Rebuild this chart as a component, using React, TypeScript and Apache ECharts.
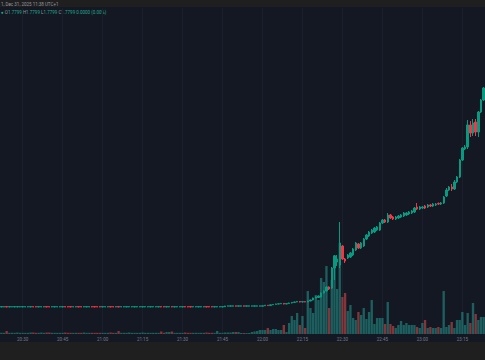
import React, { useEffect, useRef } from "react";
import * as echarts from "echarts";

// ---- data ----
const startMinute = 20 * 60 + 22; // first candle 20:22
const candleCount = 182;
const categories: string[] = Array.from({ length: candleCount }, (_, i) => {
  const m = startMinute + i;
  return `${String(Math.floor(m / 60)).padStart(2, "0")}:${String(m % 60).padStart(2, "0")}`;
});
const tickLabels = ["20:30", "20:45", "21:00", "21:15", "21:30", "21:45", "22:00", "22:15", "22:30", "22:45", "23:00", "23:15"];

const titleText = "1, Dec 31, 2025 11:38 UTC+1";
const ohlcLabels = ["O", "H", "L", "C"];
const ohlcValues = ["1.7799", "1.7799", "1.7799", "1.7799"];
const changeText = "0.0000 (0.00%)";

// [open, close, low, high]
const candles: number[][] = [
  [27, 27.4, 26.8, 27.6], [27, 27.4, 26.8, 27.6], [27.4, 27, 26.8, 27.6], [27, 27.4, 26.8, 27.6], [27, 27.4, 26.8, 27.6],
  [27, 27.4, 26.8, 27.6], [27, 27.4, 26.8, 27.6], [27, 27.4, 26.8, 27.6], [27, 27.4, 26.8, 27.6], [27, 27.4, 26.8, 27.6],
  [27, 27.4, 26.8, 27.6], [27, 27.4, 26.8, 27.6], [27.4, 27, 26.8, 27.6], [27.4, 27, 26.8, 27.6], [27, 27.4, 26.8, 27.6],
  [27, 27.4, 26.8, 27.6], [27, 27.4, 26.8, 27.6], [27.4, 27, 26.8, 27.6], [27.4, 27, 26.8, 27.6], [27, 27.4, 26.8, 27.6],
  [27, 27.4, 26.8, 27.6], [27, 27.4, 26.8, 27.6], [27, 27.4, 26.8, 27.6], [27, 27.4, 26.8, 27.6], [27.4, 27, 26.8, 27.6],
  [27.4, 27, 26.8, 27.6], [27.4, 27, 26.8, 27.6], [27, 27.4, 26.8, 27.6], [27, 27.4, 26.8, 27.6], [27.4, 27, 26.8, 27.6],
  [27.4, 27, 26.8, 27.6], [27, 27.4, 26.8, 27.6], [27, 27.4, 26.8, 27.6], [27, 27.4, 26.8, 27.6], [27.4, 27, 26.8, 27.6],
  [27.4, 27, 26.8, 27.6], [27.4, 27, 26.8, 27.6], [27.4, 27, 26.8, 27.6], [27, 27.4, 26.8, 27.6], [27, 27.4, 26.8, 27.6],
  [27, 27.4, 26.8, 27.6], [27.4, 27, 26.8, 27.6], [27.4, 27, 26.8, 27.6], [27, 27.4, 26.8, 27.6], [27.4, 27, 26.8, 27.6],
  [27, 27.4, 26.8, 27.6], [27, 27.4, 26.8, 27.6], [27, 27.4, 26.8, 27.6], [27, 27.4, 26.8, 27.6], [27, 27.4, 26.8, 27.6],
  [27, 27.4, 26.8, 27.6], [27, 27.4, 26.8, 27.6], [27, 27.4, 26.8, 27.6], [27, 27.4, 26.8, 27.6], [27, 27.4, 26.8, 27.6],
  [27, 27.4, 26.8, 27.6], [27, 27.4, 26.8, 27.6], [27, 27.4, 26.8, 27.6], [27, 27.4, 26.8, 27.6], [27, 27.4, 26.8, 27.6],
  [27.4, 27, 26.8, 27.6], [27.4, 27, 26.8, 27.6], [27, 27.4, 26.8, 27.6], [27, 27.4, 26.8, 27.6], [27.4, 27, 26.8, 27.6],
  [27, 27.4, 26.8, 27.6], [27, 27.4, 26.8, 27.6], [27, 27.4, 26.8, 27.6], [27, 27.4, 26.8, 27.6], [27.4, 27, 26.8, 27.6],
  [27.4, 27, 26.8, 27.6], [27.4, 27, 26.8, 27.6], [27, 27.4, 26.8, 27.6], [27, 27.4, 26.8, 27.6], [27, 27.4, 26.8, 27.6],
  [27, 27.4, 26.8, 27.6], [27, 27.4, 26.8, 27.6], [27.4, 27, 26.8, 27.6], [27.4, 27, 26.8, 27.6], [27.4, 27, 26.8, 27.6],
  [27, 27.4, 26.8, 27.6], [27, 27.4, 26.8, 27.6], [27, 27.4, 26.8, 27.6], [27, 27.4, 26.8, 27.6],
  // 84..
  [27.2, 28, 27, 28.2], [27.8, 28.2, 27.6, 28.4], [27.8, 28.2, 27.6, 28.4], [27.8, 28.2, 27.6, 28.4], [28.2, 27.8, 27.6, 28.4],
  [27.8, 28.2, 27.6, 28.4], [27.8, 28.2, 27.6, 28.4], [28.2, 27.8, 27.6, 28.4], [27.8, 28.2, 27.6, 28.4], [27.8, 28.2, 27.6, 28.4],
  [27.8, 28.2, 27.6, 28.4], [27.8, 28.2, 27.6, 28.4], [27.8, 28.2, 27.6, 28.4], [27.8, 28.2, 27.6, 28.4], [27.8, 28.2, 27.6, 28.4],
  // 99..
  [28.2, 28.8, 28, 29], [28.8, 28.4, 28.2, 29], [28.4, 29.2, 28.2, 29.4], [29.2, 29.6, 29, 30], [29.6, 30, 29.4, 30.4],
  [30, 30.2, 29.8, 30.6], [30.2, 30.6, 30, 31], [30.6, 30, 29.6, 31], [30, 30.4, 29.8, 30.8], [30.4, 31, 30.2, 31.4],
  [31, 31.6, 30.6, 32], [31.6, 32, 31.4, 32.4], [32, 32.6, 31.8, 33], [32.6, 32, 31.6, 32.8],
  // 113..
  [32, 32.4, 31.6, 32.8], [32.4, 32, 31.8, 32.6], [32, 33, 31.8, 33.4], [33, 34, 32.8, 34.4], [34, 36, 33.6, 36.4],
  [36, 37, 35.6, 37.6], [36.5, 38, 36, 38.6], [37, 41, 36.6, 41.6], [41, 43, 40.6, 43.6], [43, 47, 42.6, 47.6],
  [47, 45, 44, 47.6], [46, 66, 45, 67], [66, 78, 54, 79], [72, 75, 68, 79], [69, 91, 66, 112],
  [88, 75, 74, 89], [75, 73, 71, 76], [76, 79, 75, 80], [77, 81, 76, 82], [79, 85, 78, 86],
  [84, 91, 83, 92], [90, 86, 85, 91], [86, 91, 85, 92], [88, 95, 87, 96], [95, 99, 94, 100],
  [98, 102, 97, 103], [101, 104, 100, 105], [102, 106, 101, 107], [104, 107, 103, 108], [104, 111, 103, 112],
  [111, 114, 110, 115], [114, 112, 111, 115], [112, 119, 111, 121], [119, 116, 115, 120], [117, 115, 114, 118],
  [115, 117, 114, 118], [116, 118, 115, 119], [117, 119, 116, 120], [118, 121, 117, 122], [119, 121, 118, 122],
  [120, 122, 119, 123], [121, 123, 120, 124], [122, 126, 121, 127], [127, 125, 124, 131], [125, 127, 124, 128],
  [126, 127, 125, 128], [128, 126, 125, 129], [127, 129, 126, 130], [129, 128, 127, 130], [128, 130, 127, 131],
  [129, 130, 128, 131], [130.6, 130, 129, 131.5], [130, 131, 129, 132], [131, 137, 130, 138], [138, 144, 137, 146],
  [144, 147, 143, 148], [147, 145, 143, 150], [145, 152, 144, 154], [152, 157, 151, 158], [157, 174, 156, 175],
  [174, 186, 173, 187], [185, 187, 184, 189], [187, 209, 185, 214], [209, 201, 197, 213], [201, 211, 198, 215],
  [212, 202, 198, 215], [202, 222, 197, 223], [222, 234, 221, 235], [234, 246, 233, 247],
];

const volumes: number[] = [
  1.2, 1.2, 3, 1.2, 1.2, 1.2, 1.5, 1.2, 1.2, 1.2, 1.2, 1.5, 1.5, 1.2, 1.2, 1.5, 1.2, 1.5, 1.5, 1.2,
  1.2, 1.2, 1.2, 1.2, 1.5, 1.2, 1.2, 1.2, 1.2, 1.2, 1.2, 1.5, 1.2, 1.2, 1.2, 1.2, 1.2, 1.2, 1.2, 1.2,
  1.2, 1.5, 1.2, 1.2, 3, 1.2, 1.2, 1.2, 1.5, 1.2, 1.2, 1.2, 1.2, 1.5, 1.2, 1.2, 1.2, 1.2, 1.2, 1.2,
  2.5, 1.2, 2, 2, 2.5, 1.2, 1.2, 1.2, 1.2, 1.5, 1.2, 1.2, 1.2, 1.2, 1.2, 1.2, 1.2, 1.5, 1.2, 1.2,
  1.2, 3, 1.2, 1.2,
  1.5, 1.5, 1.5, 2, 2, 2, 1, 1, 1, 1, 2, 2.5, 3, 4, 4,
  4, 6, 4, 5, 5, 4, 4, 9, 2, 11, 18, 14, 21, 9,
  18, 6, 43, 26, 21, 39, 34, 56, 52, 68, 26, 54, 79, 45, 91, 37, 41, 23, 29, 16,
  14, 22, 19, 26, 15, 22, 34, 10, 16, 16, 16, 10, 32, 10, 8, 6, 9, 13, 9, 11,
  9, 9, 9, 7, 6, 11, 14, 6, 7, 6, 6, 7, 6, 43, 7, 9, 12, 6, 14, 14,
  22, 9, 21, 11, 31, 20, 14, 17, 17,
];

const UP = "#089981";
const DOWN = "#f23645";
const UP_VOL = "rgba(38,166,154,0.5)";
const DOWN_VOL = "rgba(239,83,80,0.5)";

export default function App() {
  const ref = useRef<HTMLDivElement>(null);
  useEffect(() => {
    document.body.style.margin = "0";
    document.body.style.background = "#1f1f1f";
    if (!ref.current) return;
    const chart = echarts.init(ref.current, undefined, { renderer: "svg" });
    const showTick = (_i: number, v: string) => tickLabels.includes(v);
    const volData = volumes.map((v, i) => ({
      value: v,
      itemStyle: { color: candles[i][1] >= candles[i][0] ? UP_VOL : DOWN_VOL },
    }));
    const rich: any = {
      l: { fill: "#9598a1", fontSize: 4.5, fontFamily: "Roboto" },
      v: { fill: "#22ab94", fontSize: 4.5, fontFamily: "Roboto" },
    };
    const ohlcStr =
      ohlcLabels.map((l, i) => `{l|${l}}{v|${ohlcValues[i]}}`).join(" ") + ` {v|${changeText}}`;
    chart.setOption({
      animation: false,
      backgroundColor: "#1f1f1f",
      graphic: [
        { type: "rect", z: -10, silent: true, shape: { x: 0, y: 7, width: 485, height: 335 }, style: { fill: "#141823" } },
        { type: "text", x: 1, y: 1.5, style: { text: titleText, fill: "#9598a1", fontSize: 4.5, fontFamily: "Roboto" } },
        { type: "text", x: 1, y: 10, style: { text: "{v|●} " + ohlcStr, rich, fill: "#22ab94", fontSize: 4.5, fontFamily: "Roboto" } },
      ],
      grid: { left: 0, right: 0, top: 8, bottom: 26 },
      xAxis: {
        type: "category",
        data: categories,
        boundaryGap: true,
        axisLine: { show: false },
        axisTick: { show: false, alignWithLabel: true },
        axisLabel: { interval: showTick, color: "#787b86", fontSize: 4.5, margin: 3, fontFamily: "Roboto" },
        splitLine: { show: true, interval: showTick, alignWithLabel: true, lineStyle: { color: "#1b1f2c", width: 1 } },
      },
      yAxis: [
        { type: "value", min: 0, max: 326, show: false, splitLine: { show: false } },
        { type: "value", min: 0, max: 326, show: false, splitLine: { show: false } },
      ],
      series: [
        {
          type: "bar",
          yAxisIndex: 1,
          data: volData,
          barCategoryGap: "12%",
          z: 1,
        },
        {
          type: "candlestick",
          yAxisIndex: 0,
          data: candles,
          barWidth: "70%",
          z: 3,
          itemStyle: { color: UP, color0: DOWN, borderColor: UP, borderColor0: DOWN, borderWidth: 1 },
        },
      ],
    });
    return () => chart.dispose();
  }, []);
  return <div ref={ref} style={{ width: 485, height: 360 }} />;
}
